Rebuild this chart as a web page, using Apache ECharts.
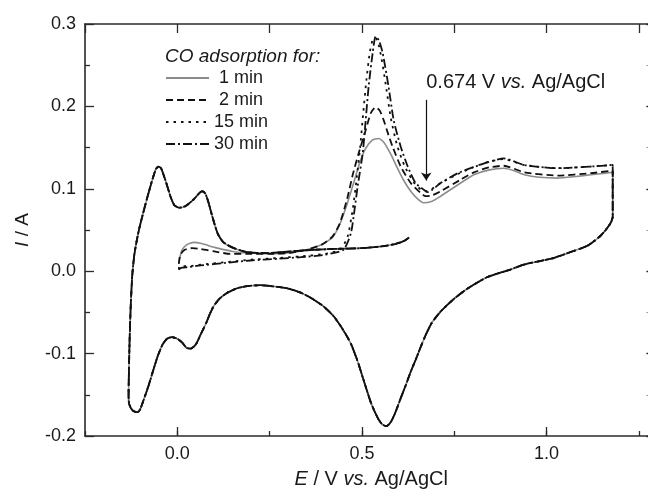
<!DOCTYPE html>
<html>
<head>
<meta charset="utf-8">
<script src="https://cdn.jsdelivr.net/npm/echarts@6/dist/echarts.min.js"></script>
<style>
  html, body { margin: 0; padding: 0; background: #ffffff; }
  #chart { width: 648px; height: 495px; }
</style>
</head>
<body>
<div id="chart"></div>
<script>
// Cyclic voltammograms after CO adsorption for different times.
// Each curve: first anodic sweep (CO stripping), reverse sweep, next anodic sweep.

const seriesNames = ['1 min', '2 min', '15 min', '30 min'];

// First anodic sweep, E (V vs. Ag/AgCl), I (A)
const sweep1min = [
  [0.004, 0.010], [0.012, 0.025], [0.025, 0.032], [0.045, 0.035], [0.063, 0.034],
  [0.085, 0.031], [0.109, 0.028], [0.150, 0.024], [0.190, 0.022], [0.250, 0.021],
  [0.300, 0.022], [0.350, 0.026], [0.390, 0.032], [0.420, 0.041], [0.440, 0.057],
  [0.460, 0.082], [0.478, 0.108], [0.495, 0.133], [0.510, 0.149], [0.528, 0.159],
  [0.545, 0.161], [0.560, 0.156], [0.578, 0.142], [0.595, 0.126], [0.612, 0.111],
  [0.632, 0.097], [0.650, 0.088], [0.667, 0.083], [0.690, 0.085], [0.713, 0.091],
  [0.740, 0.099], [0.767, 0.107], [0.803, 0.117], [0.845, 0.123], [0.884, 0.125],
  [0.912, 0.122], [0.940, 0.117], [0.980, 0.114], [1.030, 0.113], [1.080, 0.115],
  [1.120, 0.117], [1.160, 0.119], [1.179, 0.120]
];
const sweep2min = [
  [0.004, 0.009], [0.008, 0.020], [0.020, 0.026], [0.040, 0.028], [0.063, 0.027],
  [0.100, 0.024], [0.144, 0.021], [0.190, 0.021], [0.250, 0.021], [0.300, 0.022],
  [0.350, 0.026], [0.390, 0.032], [0.420, 0.042], [0.440, 0.058], [0.460, 0.088],
  [0.475, 0.117], [0.491, 0.143], [0.510, 0.171], [0.524, 0.192], [0.537, 0.199],
  [0.548, 0.195], [0.559, 0.183], [0.572, 0.165], [0.583, 0.151], [0.605, 0.127],
  [0.632, 0.107], [0.659, 0.095], [0.672, 0.091], [0.690, 0.092], [0.713, 0.097],
  [0.767, 0.111], [0.803, 0.120], [0.845, 0.126], [0.884, 0.128], [0.940, 0.120],
  [1.030, 0.116], [1.120, 0.119], [1.179, 0.122]
];
const sweep15min = [
  [0.004, 0.002], [0.006, 0.006], [0.030, 0.006], [0.063, 0.008], [0.130, 0.011],
  [0.200, 0.014], [0.270, 0.016], [0.334, 0.018], [0.400, 0.021], [0.440, 0.026],
  [0.460, 0.040], [0.475, 0.075], [0.485, 0.110], [0.495, 0.150], [0.503, 0.190],
  [0.512, 0.232], [0.521, 0.265], [0.529, 0.281], [0.537, 0.283], [0.545, 0.275],
  [0.553, 0.258], [0.565, 0.225], [0.578, 0.186], [0.595, 0.153], [0.615, 0.128],
  [0.640, 0.108], [0.660, 0.099], [0.676, 0.097], [0.713, 0.107], [0.760, 0.118],
  [0.800, 0.126], [0.845, 0.133], [0.884, 0.136], [0.938, 0.129], [1.030, 0.125],
  [1.119, 0.127], [1.179, 0.129]
];
const sweep30min = [
  [0.004, 0.002], [0.010, 0.004], [0.030, 0.005], [0.063, 0.007], [0.130, 0.010],
  [0.198, 0.013], [0.270, 0.015], [0.334, 0.017], [0.400, 0.020], [0.450, 0.026],
  [0.470, 0.046], [0.480, 0.075], [0.488, 0.102], [0.502, 0.143], [0.510, 0.183],
  [0.518, 0.224], [0.529, 0.265], [0.537, 0.285], [0.546, 0.280], [0.556, 0.265],
  [0.572, 0.224], [0.586, 0.183], [0.605, 0.151], [0.624, 0.127], [0.645, 0.107],
  [0.667, 0.099], [0.678, 0.096], [0.713, 0.107], [0.760, 0.119], [0.794, 0.125],
  [0.840, 0.132], [0.884, 0.137], [0.938, 0.129], [1.030, 0.125], [1.119, 0.127],
  [1.179, 0.129]
];

// Reverse (cathodic) sweep, common to all curves
const reverseSweep = [
  [1.179, 0.066], [1.170, 0.056], [1.146, 0.043], [1.111, 0.031], [1.057, 0.022],
  [1.019, 0.016], [0.938, 0.008], [0.902, 0.002], [0.840, -0.007], [0.786, -0.021],
  [0.748, -0.034], [0.715, -0.048], [0.690, -0.062], [0.672, -0.078], [0.659, -0.092],
  [0.645, -0.108], [0.632, -0.122], [0.618, -0.139], [0.605, -0.154], [0.590, -0.172],
  [0.578, -0.183], [0.566, -0.188], [0.555, -0.186], [0.545, -0.180], [0.534, -0.170],
  [0.523, -0.158], [0.505, -0.133], [0.488, -0.109], [0.470, -0.088], [0.450, -0.072],
  [0.424, -0.055], [0.394, -0.042], [0.360, -0.032], [0.334, -0.026], [0.300, -0.021],
  [0.271, -0.019], [0.225, -0.017], [0.190, -0.018], [0.160, -0.021], [0.136, -0.026],
  [0.115, -0.033], [0.099, -0.042], [0.088, -0.052], [0.078, -0.063], [0.063, -0.077],
  [0.050, -0.089], [0.036, -0.094], [0.025, -0.093], [0.014, -0.087], [0.000, -0.082],
  [-0.015, -0.080], [-0.028, -0.082], [-0.040, -0.089], [-0.053, -0.103], [-0.065, -0.120],
  [-0.078, -0.139], [-0.091, -0.156], [-0.100, -0.167], [-0.107, -0.171], [-0.118, -0.170],
  [-0.126, -0.166], [-0.131, -0.160]
];

// Following anodic sweep (H desorption, double layer), common to all curves
const nextSweep = [
  [-0.132, -0.150], [-0.131, -0.120], [-0.129, -0.080], [-0.126, -0.040], [-0.122, -0.005],
  [-0.117, 0.018], [-0.112, 0.032], [-0.104, 0.050], [-0.094, 0.068], [-0.081, 0.090],
  [-0.067, 0.112], [-0.058, 0.124], [-0.051, 0.127], [-0.044, 0.125], [-0.032, 0.110],
  [-0.018, 0.090], [-0.008, 0.080], [0.005, 0.077], [0.022, 0.079], [0.044, 0.087],
  [0.060, 0.095], [0.068, 0.097], [0.076, 0.094], [0.084, 0.084], [0.095, 0.066],
  [0.109, 0.046], [0.125, 0.035], [0.153, 0.028], [0.190, 0.023], [0.244, 0.022],
  [0.334, 0.025], [0.420, 0.027], [0.500, 0.028], [0.551, 0.030], [0.590, 0.033],
  [0.615, 0.037], [0.628, 0.041]
];

const firstSweeps = [sweep1min, sweep2min, sweep15min, sweep30min];

const xLabelValues = [0.0, 0.5, 1.0];
const arrowE = 0.674;
const arrowFromI = 0.208;
const arrowToI = 0.110;

const FONT = "'Liberation Sans', Arial, Helvetica, sans-serif";
const INK = '#1a1a1a';
const AXIS = '#2b2b2b';

const lineStyles = [
  { color: '#8c8c8c', width: 1.6, type: 'solid' },
  { color: '#111111', width: 1.8, type: [7, 4] },
  { color: '#111111', width: 1.8, type: [2.5, 5] },
  { color: '#111111', width: 1.8, type: [9, 3, 2, 3] }
];

const series = seriesNames.map((name, k) => ({
  name: name,
  type: 'line',
  xAxisIndex: 0,
  yAxisIndex: 0,
  data: firstSweeps[k].concat(reverseSweep, nextSweep),
  symbol: 'none',
  showSymbol: false,
  smooth: 0.2,
  lineStyle: lineStyles[k],
  itemStyle: { color: lineStyles[k].color },
  z: 2 + k,
  animation: false,
  silent: true
}));

series[3].markLine = {
  silent: true,
  animation: false,
  symbol: ['none', 'arrow'],
  symbolSize: 8,
  lineStyle: { color: '#111111', width: 1.2, type: 'solid' },
  label: {
    show: true,
    position: 'start',
    align: 'left',
    verticalAlign: 'bottom',
    distance: 7,
    formatter: '0.674 V {i|vs.} Ag/AgCl',
    fontFamily: FONT,
    fontSize: 20,
    color: INK,
    rich: { i: { fontStyle: 'italic', fontFamily: FONT, fontSize: 20, color: INK } }
  },
  data: [[{ coord: [arrowE, arrowFromI] }, { coord: [arrowE, arrowToI] }]]
};

const xMin = -0.25, xMax = 1.3;

const option = {
  backgroundColor: '#ffffff',
  animation: false,
  title: {
    text: 'CO adsorption for:',
    left: 165,
    top: 47,
    padding: 0,
    textStyle: { fontFamily: FONT, fontStyle: 'italic', fontWeight: 'normal', fontSize: 19, lineHeight: 20, color: INK }
  },
  legend: {
    data: seriesNames,
    orient: 'vertical',
    left: 165,
    top: 69,
    padding: 0,
    itemWidth: 43,
    itemHeight: 14,
    itemGap: 4,
    selectedMode: false,
    itemStyle: { opacity: 0 },
    formatter: n => n.padStart(6, ' '),
    textStyle: { fontFamily: FONT, fontSize: 18, lineHeight: 18, color: INK }
  },
  grid: { left: 85, top: 24, width: 572.4, height: 412, containLabel: false, outerBoundsMode: 'none' },
  xAxis: [
    {
      type: 'value', position: 'bottom', min: xMin, max: xMax, interval: 0.25,
      axisLine: { show: true, onZero: false, lineStyle: { color: AXIS, width: 1.6 } },
      axisTick: { show: true, inside: true, length: 5, lineStyle: { color: AXIS, width: 1.3 } },
      axisLabel: {
        customValues: xLabelValues,
        formatter: v => v.toFixed(1),
        fontFamily: FONT, fontSize: 18, color: INK, margin: 9
      },
      splitLine: { show: false },
      name: '{i|E} / V {i|vs.} Ag/AgCl',
      nameLocation: 'middle',
      nameGap: 33,
      nameTextStyle: {
        fontFamily: FONT, fontSize: 20, color: INK,
        rich: { i: { fontStyle: 'italic', fontFamily: FONT, fontSize: 20, color: INK } }
      }
    },
    {
      type: 'value', position: 'bottom', min: xMin, max: xMax, interval: 0.25,
      axisLine: { show: false, onZero: false },
      axisTick: { show: true, inside: true, length: 9, customValues: xLabelValues, lineStyle: { color: AXIS, width: 1.3 } },
      axisLabel: { show: false },
      splitLine: { show: false }
    },
    {
      type: 'value', position: 'top', min: xMin, max: xMax, interval: 0.25,
      axisLine: { show: true, onZero: false, lineStyle: { color: AXIS, width: 1.6 } },
      axisTick: { show: true, inside: true, length: 9, lineStyle: { color: AXIS, width: 1.3 } },
      axisLabel: { show: false },
      splitLine: { show: false }
    }
  ],
  yAxis: [
    {
      type: 'value', position: 'left', min: -0.2, max: 0.3, interval: 0.1,
      axisLine: { show: true, onZero: false, lineStyle: { color: AXIS, width: 1.6 } },
      axisTick: { show: true, inside: true, length: 9, lineStyle: { color: AXIS, width: 1.3 } },
      minorTick: { show: true, splitNumber: 2, length: 5, lineStyle: { color: AXIS, width: 1.3 } },
      axisLabel: { formatter: v => v.toFixed(1), fontFamily: FONT, fontSize: 18, color: INK, margin: 9 },
      splitLine: { show: false },
      minorSplitLine: { show: false },
      name: '{i|I} / A',
      nameLocation: 'middle',
      nameRotate: 90,
      nameGap: 53,
      nameTextStyle: {
        fontFamily: FONT, fontSize: 19, color: INK,
        rich: { i: { fontStyle: 'italic', fontFamily: FONT, fontSize: 19, color: INK } }
      }
    },
    {
      type: 'value', position: 'right', min: -0.2, max: 0.3, interval: 0.1,
      axisLine: { show: true, onZero: false, lineStyle: { color: AXIS, width: 1.6 } },
      axisTick: { show: true, inside: true, length: 11, lineStyle: { color: AXIS, width: 1.3 } },
      minorTick: { show: true, splitNumber: 2, length: 11, lineStyle: { color: '#9a9a9a', width: 1 } },
      axisLabel: { show: false },
      splitLine: { show: false }
    }
  ],
  series: series
};

const chart = echarts.init(document.getElementById('chart'), null, { renderer: 'canvas' });
chart.setOption(option);
</script>
</body>
</html>
